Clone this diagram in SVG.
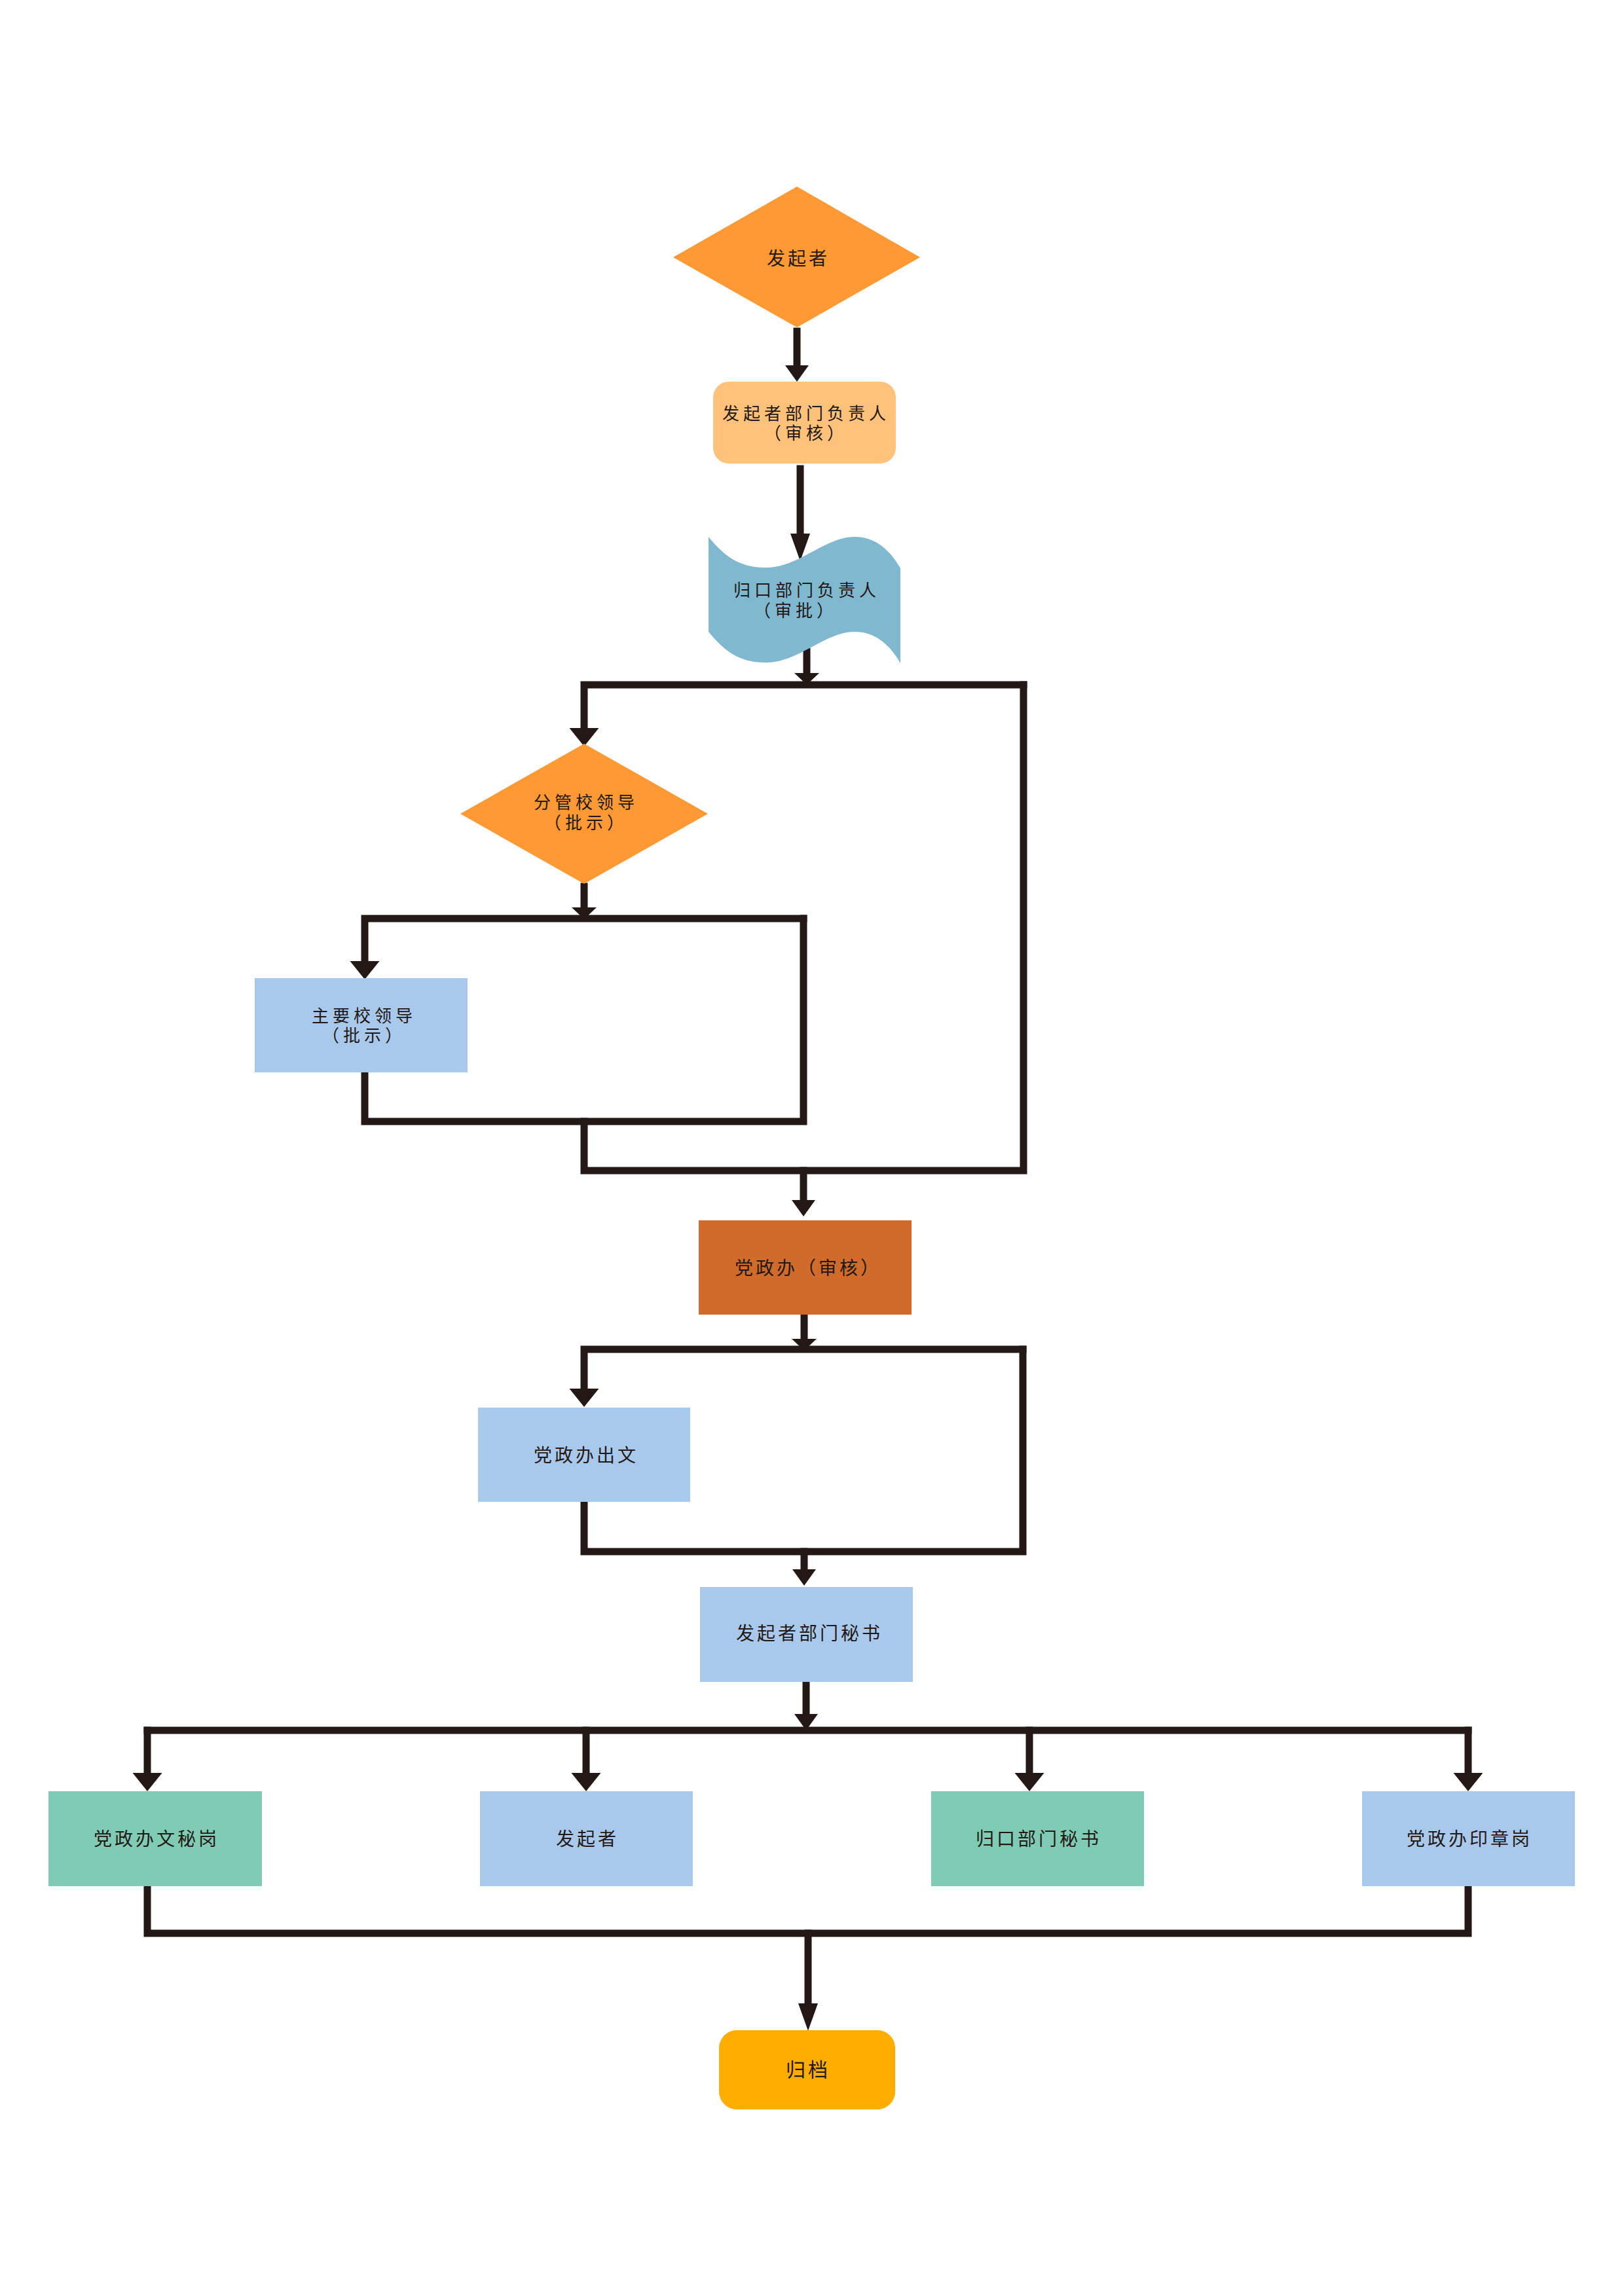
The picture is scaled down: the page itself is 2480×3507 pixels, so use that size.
<svg xmlns="http://www.w3.org/2000/svg" width="2480" height="3507" viewBox="0 0 2480 3507">
<style>
.t{font-family:"Noto Sans CJK SC","Noto Sans",sans-serif;font-size:28px;letter-spacing:4px;fill:#231815;text-anchor:middle}
.t2{font-size:26px;letter-spacing:6px}
.ln{fill:none;stroke:#231815;stroke-width:11;stroke-linecap:square;stroke-linejoin:miter}
.orange{fill:#FF9933}
.peach{fill:#FFC27A}
.wave{fill:#80B8CF}
.blue{fill:#A9C9EC}
.green{fill:#7FCBB4}
.rust{fill:#D06B2C}
.amber{fill:#FFAE00}
</style>
<defs>
<marker id="ah" markerUnits="userSpaceOnUse" markerWidth="40" markerHeight="40" viewBox="0 -20 40 40" refX="0" refY="0" orient="auto"><path d="M0,-18 L25,0 L0,18 Z" fill="#231815"/></marker>
<marker id="ahN" markerUnits="userSpaceOnUse" markerWidth="50" markerHeight="40" viewBox="0 -20 50 40" refX="0" refY="0" orient="auto"><path d="M0,-15 L42,0 L0,15 Z" fill="#231815"/></marker>
<marker id="ahS" markerUnits="userSpaceOnUse" markerWidth="30" markerHeight="44" viewBox="0 -22 30 44" refX="0" refY="0" orient="auto"><path d="M0,-19 L18,0 L0,19 Z" fill="#231815"/></marker>
<marker id="ahW" markerUnits="userSpaceOnUse" markerWidth="34" markerHeight="50" viewBox="0 -25 34 50" refX="0" refY="0" orient="auto"><path d="M0,-22.5 L28,0 L0,22.5 Z" fill="#231815"/></marker>
</defs>
<rect width="2480" height="3507" fill="#FFFFFF"/>

<g id="connectors">
<path class="ln" d="M1217,506 V558" marker-end="url(#ah)"/>
<path class="ln" d="M1222,716 V815" marker-end="url(#ahN)"/>
<path class="ln" d="M1232,995 V1028" marker-end="url(#ahS)"/>
<path class="ln" d="M1563,1046 H892 V1112" marker-end="url(#ahW)"/>
<path class="ln" d="M1563,1046 V1788 H892 V1713"/>
<path class="ln" d="M892,1354 V1386" marker-end="url(#ahS)"/>
<path class="ln" d="M1227,1403 H557 V1468" marker-end="url(#ahW)"/>
<path class="ln" d="M1227,1403 V1713 H557 V1643"/>
<path class="ln" d="M1227,1788 V1833" marker-end="url(#ah)"/>
<path class="ln" d="M1228,2013 V2045" marker-end="url(#ahS)"/>
<path class="ln" d="M1562,2061 H892 V2121" marker-end="url(#ahW)"/>
<path class="ln" d="M1562,2061 V2370 H892 V2298"/>
<path class="ln" d="M1228,2370 V2397" marker-end="url(#ah)"/>
<path class="ln" d="M1231,2573 V2618" marker-end="url(#ah)"/>
<path class="ln" d="M225,2643 H2242"/>
<path class="ln" d="M225,2643 V2708" marker-end="url(#ahW)"/>
<path class="ln" d="M895,2643 V2708" marker-end="url(#ahW)"/>
<path class="ln" d="M1572,2643 V2708" marker-end="url(#ahW)"/>
<path class="ln" d="M2242,2643 V2708" marker-end="url(#ahW)"/>
<path class="ln" d="M225,2885 V2953 H2242 V2885"/>
<path class="ln" d="M1234,2953 V3060" marker-end="url(#ahN)"/>
</g>

<g id="n1">
<polygon class="orange" points="1217,285 1405,393 1217,500 1028,393"/>
<text class="t" x="1219" y="405">发起者</text>
</g>

<g id="n2">
<rect class="peach" x="1089" y="583" width="279" height="125" rx="24"/>
<text class="t t2" x="1231" y="641">发起者部门负责人</text>
<text class="t t2" x="1231" y="671">（审核）</text>
</g>

<g id="n3">
<path class="wave" d="M1082,820 C1110,855 1135,867 1170,867 C1220,867 1260,820 1305,820 C1335,820 1358,838 1375,868 V1013 C1358,983 1335,965 1305,965 C1260,965 1220,1012 1170,1012 C1135,1012 1110,1000 1082,965 Z"/>
<text class="t t2" x="1232" y="911">归口部门负责人</text>
<text class="t t2" x="1215" y="942">（审批）</text>
</g>

<g id="n4">
<polygon class="orange" points="892,1136 1081,1243 892,1350 703,1243"/>
<text class="t t2" x="895" y="1235">分管校领导</text>
<text class="t t2" x="895" y="1266">（批示）</text>
</g>

<g id="n5">
<rect class="blue" x="389" y="1494" width="325" height="144"/>
<text class="t t2" x="556" y="1561">主要校领导</text>
<text class="t t2" x="556" y="1591">（批示）</text>
</g>

<g id="n6">
<rect class="rust" x="1067" y="1864" width="325" height="144"/>
<text class="t" x="1234" y="1947">党政办（审核）</text>
</g>

<g id="n7">
<rect class="blue" x="730" y="2150" width="324" height="144"/>
<text class="t" x="895" y="2233">党政办出文</text>
</g>

<g id="n8">
<rect class="blue" x="1069" y="2424" width="325" height="145"/>
<text class="t" x="1236" y="2505">发起者部门秘书</text>
</g>

<g id="n9">
<rect class="green" x="74" y="2736" width="326" height="145"/>
<text class="t" x="239" y="2819">党政办文秘岗</text>
</g>

<g id="n10">
<rect class="blue" x="733" y="2736" width="325" height="145"/>
<text class="t" x="897" y="2819">发起者</text>
</g>

<g id="n11">
<rect class="green" x="1422" y="2736" width="325" height="145"/>
<text class="t" x="1586" y="2819">归口部门秘书</text>
</g>

<g id="n12">
<rect class="blue" x="2080" y="2736" width="325" height="145"/>
<text class="t" x="2244" y="2819">党政办印章岗</text>
</g>

<g id="n13">
<rect class="amber" x="1098" y="3101" width="269" height="121" rx="27"/>
<text class="t" x="1234" y="3172" style="font-size:30px">归档</text>
</g>
</svg>
